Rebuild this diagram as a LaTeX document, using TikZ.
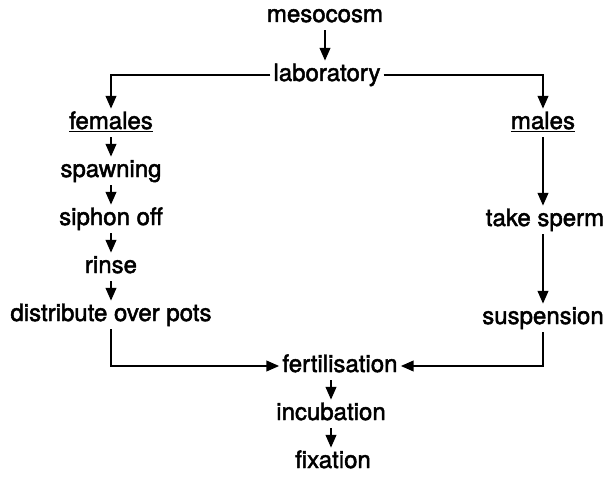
\documentclass[tikz,border=0pt]{standalone}
\usepackage{fontspec}
\setmainfont[FakeBold=2]{TeX Gyre Heros}
\usetikzlibrary{arrows.meta}
\begin{document}
\begin{tikzpicture}[x=1pt,y=-1pt,
  lbl/.style={inner sep=3pt,font=\fontsize{24}{28}\selectfont,text height=17pt,text depth=5pt},
  arr/.style={line width=2.5pt,-{Triangle[length=13pt,width=10.5pt]}}]
\useasboundingbox (0,0) rectangle (606,487);
\node[lbl] (meso) at (325,16) {mesocosm};
\node[lbl] (lab) at (327,75) {laboratory};
\node[lbl] (fem) at (111,123) {\underline{females}};
\node[lbl] (male) at (543,123) {\underline{males}};
\node[lbl] (spawn) at (111,171) {spawning};
\node[lbl] (siph) at (111,219) {siphon off};
\node[lbl] (rinse) at (111,267) {rinse};
\node[lbl] (dist) at (111,315) {distribute over pots};
\node[lbl] (sperm) at (545,220) {take sperm};
\node[lbl] (susp) at (543,318) {suspension};
\node[lbl] (fert) at (340,366) {fertilisation};
\node[lbl] (incu) at (331,414) {incubation};
\node[lbl] (fix) at (333,462) {fixation};
\draw[arr] (meso) -- (meso |- lab.north);
\draw[arr] (lab.west) -| (fem.north);
\draw[arr] (lab.east) -| (male.north);
\draw[arr] (fem) -- (spawn);
\draw[arr] (spawn) -- (siph);
\draw[arr] (siph) -- (rinse);
\draw[arr] (rinse) -- (dist);
\draw[arr] (male) -- (male |- sperm.north);
\draw[arr] (male |- sperm.south) -- (susp);
\draw[arr] (dist.south) |- (fert.west);
\draw[arr] (susp.south) |- (fert.east);
\draw[arr] (fert.south -| incu) -- (incu);
\draw[arr] (incu) -- (incu |- fix.north);
\end{tikzpicture}
\end{document}
